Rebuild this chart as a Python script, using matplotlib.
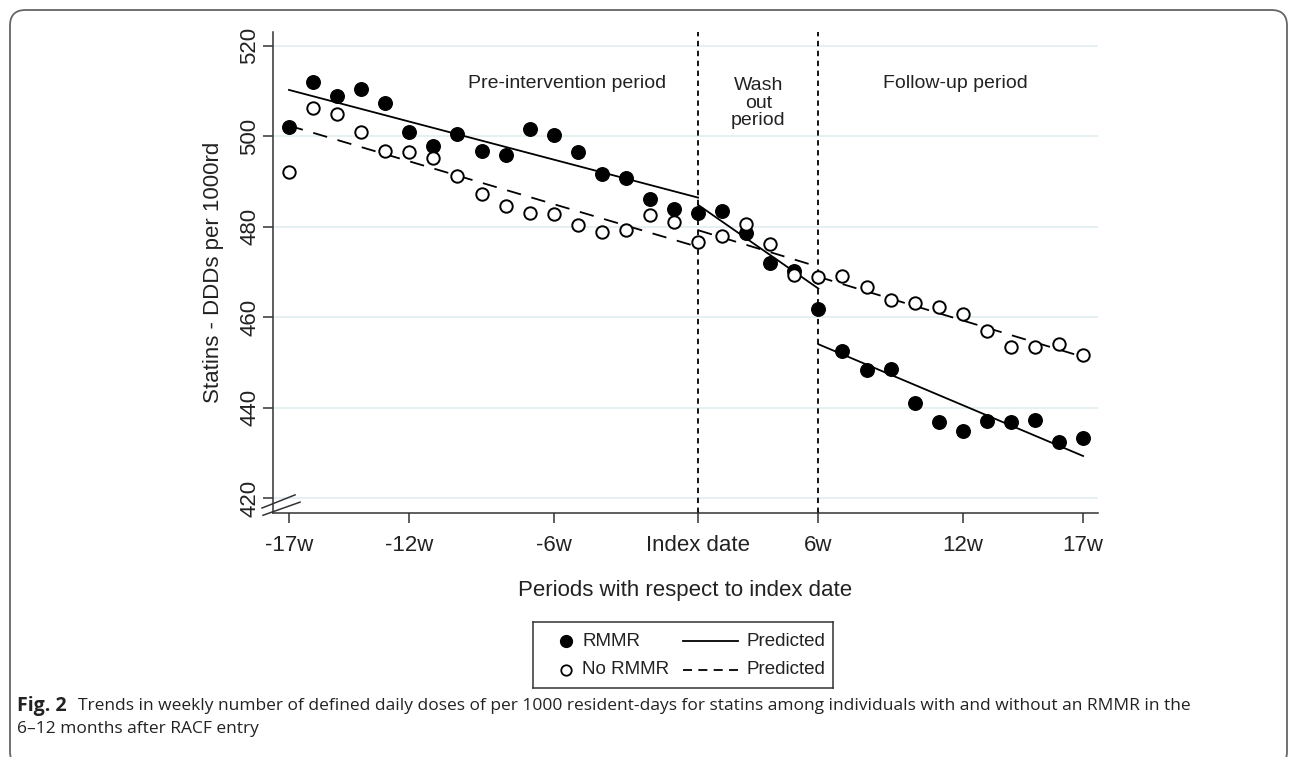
import matplotlib
matplotlib.use("Agg")
import matplotlib.pyplot as plt
from matplotlib.patches import FancyBboxPatch

# period index (0 = -17w, 17 = index date, 33 = 17w)
periods = list(range(34))
rmmr = [501.9, 511.9, 508.8, 510.5, 507.3, 501.0, 497.7, 500.4, 496.8, 495.9,
        501.5, 500.2, 496.5, 491.7, 490.8, 486.0, 483.8, 483.0,
        483.4, 478.5, 471.9, 470.2, 461.8,
        452.6, 448.3, 448.5, 441.0, 436.9, 434.8, 437.1, 436.9, 437.2, 432.3, 433.3]
no_rmmr = [492.0, 506.2, 504.9, 500.9, 496.8, 496.5, 495.1, 491.2, 487.2, 484.5,
           482.9, 482.8, 480.4, 478.7, 479.2, 482.5, 480.9, 476.6,
           478.0, 480.6, 476.2, 469.2, 468.8,
           469.1, 466.6, 463.8, 463.0, 462.3, 460.7, 457.0, 453.4, 453.3, 454.0, 451.6]

# predicted segments: (start period, end period, start value, end value)
pred_rmmr = [(0, 17, 510.2, 486.4), (17, 22, 484.8, 466.3), (22, 33, 454.0, 429.3)]
pred_no_rmmr = [(0, 17, 502.3, 475.5), (17, 22, 479.2, 471.1), (22, 33, 468.9, 451.2)]

tick_pos = [0, 5, 11, 17, 22, 28, 33]
tick_labels = ["-17w", "-12w", "-6w", "Index date", "6w", "12w", "17w"]
y_ticks = [420, 440, 460, 480, 500, 520]
period_lines = [17, 22]

plt.rcParams['font.family'] = ['Liberation Sans', 'DejaVu Sans']
TXT = '#222222'
SOLID_DASH = (0, (8, 6))

fig = plt.figure(figsize=(12.92, 7.57), dpi=100)
ax = fig.add_axes([273 / 1292, 1 - 513 / 757, 825 / 1292, 481 / 757])

for y in y_ticks:
    ax.axhline(y, color='#e6eff1', lw=1.4, zorder=0)

for x in period_lines:
    ax.axvline(x, color='black', lw=1.3, ls=(0, (3, 2.5)), zorder=1)

for x0, x1, y0, y1 in pred_rmmr:
    ax.plot([x0, x1], [y0, y1], color='black', lw=1.3, zorder=2)
for x0, x1, y0, y1 in pred_no_rmmr:
    ax.plot([x0, x1], [y0, y1], color='black', lw=1.3, ls=SOLID_DASH, zorder=2)

ax.scatter(periods, rmmr, s=95, color='black', zorder=3)
ax.scatter(periods, no_rmmr, s=80, facecolor='white', edgecolor='black', lw=1.4, zorder=3)

ax.set_xlim(-0.665, 33.62)
ax.set_ylim(416.7, 523.0)
ax.set_xticks(tick_pos)
ax.set_xticklabels(tick_labels, fontsize=16, color=TXT)
ax.set_yticks(y_ticks)
ax.set_yticklabels([str(v) for v in y_ticks], fontsize=16, rotation=90, va='center', color=TXT)
ax.tick_params(axis='both', length=7, width=1.1, color='#333333')
ax.tick_params(axis='x', pad=9)
ax.tick_params(axis='y', pad=2)
for s in ['top', 'right']:
    ax.spines[s].set_visible(False)
for s in ['left', 'bottom']:
    ax.spines[s].set_color('#333333')
    ax.spines[s].set_linewidth(1.1)

ax.set_xlabel("Periods with respect to index date", fontsize=16, labelpad=17, color=TXT)
ax.set_ylabel("Statins - DDDs per 1000rd", fontsize=16, labelpad=11, color=TXT)

ax.text(11.55, 511.7, "Pre-intervention period", fontsize=14, ha='center', va='center', color=TXT)
ax.text(19.5, 507.3, "Wash\nout\nperiod", fontsize=14, ha='center', va='center',
        color=TXT, linespacing=1.02)
ax.text(27.7, 511.7, "Follow-up period", fontsize=14, ha='center', va='center', color=TXT)

# axis break mark
ax.plot([-1.12, 0.25], [417.8, 420.7], color='#333333', lw=1.1, clip_on=False)
ax.plot([-1.08, 0.46], [416.2, 419.1], color='#333333', lw=1.1, clip_on=False)

# legend drawn in its own small box (pixel coords)
lax = fig.add_axes([533 / 1292, 1 - 688 / 757, 300 / 1292, 66 / 757])
lax.set_xlim(0, 300)
lax.set_ylim(66, 0)
lax.set_xticks([])
lax.set_yticks([])
for s in lax.spines.values():
    s.set_color('#333333')
    s.set_linewidth(1.1)
lax.plot([33], [19], 'o', color='black', markersize=8.5)
lax.plot([33], [48], 'o', markerfacecolor='white', markeredgecolor='black', markeredgewidth=1.3,
         markersize=7.5)
lax.text(49, 19, "RMMR", fontsize=13.5, va='center', color=TXT)
lax.text(49, 48, "No RMMR", fontsize=13.5, va='center', color=TXT)
lax.plot([150, 205], [19, 19], color='black', lw=1.3)
lax.plot([150, 205], [48, 48], color='black', lw=1.3, ls=(0, (5, 3.5)))
lax.text(214, 19, "Predicted", fontsize=13.5, va='center', color=TXT)
lax.text(214, 48, "Predicted", fontsize=13.5, va='center', color=TXT)

# caption
cap_font = ['Open Sans', 'DejaVu Sans']
fig_lbl = fig.text(17 / 1292, 1 - 706 / 757, "Fig. 2", fontsize=14, fontweight='bold',
                   family=cap_font, va='center', color=TXT)
r = fig.canvas.get_renderer()
x_after = fig_lbl.get_window_extent(r).x1 + 11
fig.text(x_after / 1292, 1 - 706 / 757,
         "Trends in weekly number of defined daily doses of per 1000 resident-days for statins among "
         "individuals with and without an RMMR in the",
         fontsize=12.5, family=cap_font, va='center', color=TXT)
fig.text(17 / 1292, 1 - 729 / 757, "6\u201312 months after RACF entry", fontsize=12.5,
         family=cap_font, va='center', color=TXT)

# outer frame (bottom edge runs off the image)
frame = FancyBboxPatch((10 / 1292, -10 / 757), 1277 / 1292, 757 / 757,
                       boxstyle="round,pad=0,rounding_size=0.012", transform=fig.transFigure,
                       facecolor='none', edgecolor='#666666', lw=1.3, mutation_aspect=1292 / 757)
fig.patches.append(frame)

fig.savefig("out.png", dpi=100)
